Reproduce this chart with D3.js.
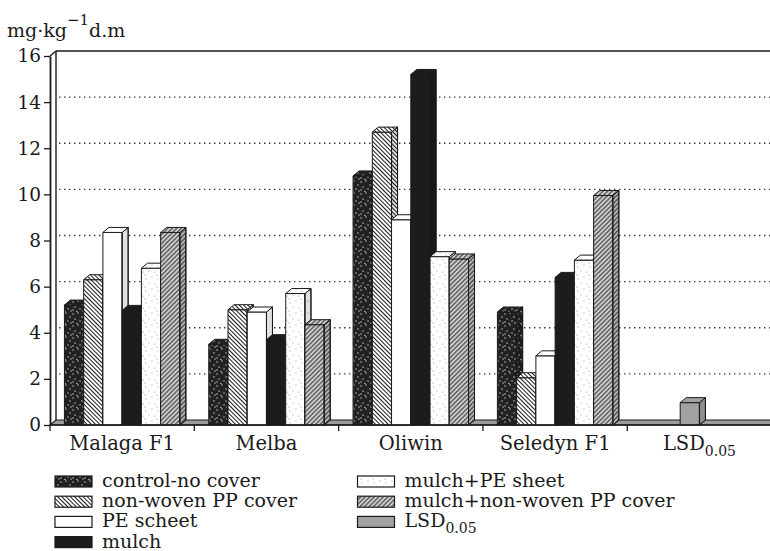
<!DOCTYPE html>
<html><head><meta charset="utf-8">
<script src="https://cdn.jsdelivr.net/npm/d3@7"></script>
<style>
body{margin:0;background:#fff}
svg text{font-family:"DejaVu Serif",serif;fill:#1a1a1a}
</style>
</head><body>
<svg id="c" width="770" height="551"></svg>
<script>
// ---- data ----
const categories = ["Malaga F1", "Melba", "Oliwin", "Seledyn F1", "LSD"];
const seriesNames = ["control-no cover", "non-woven PP cover", "PE scheet", "mulch",
                     "mulch+PE sheet", "mulch+non-woven PP cover", "LSD"];
const controlNoCover   = [5.2, 3.5, 10.8, 4.9, null];
const nonWovenPP       = [6.3, 5.0, 12.7, 2.05, null];
const peScheet         = [8.35, 4.9, 8.9, 3.0, null];
const mulch            = [4.97, 3.7, 15.2, 6.4, null];
const mulchPE          = [6.8, 5.7, 7.3, 7.15, null];
const mulchNonWovenPP  = [8.35, 4.35, 7.2, 9.95, null];
const lsd              = [null, null, null, null, 0.97];
const yTicks = [0, 2, 4, 6, 8, 10, 12, 14, 16];

const seriesValues = [controlNoCover, nonWovenPP, peScheet, mulch, mulchPE, mulchNonWovenPP, lsd];
const seriesSlot = [0, 1, 2, 3, 4, 5, 2];   // LSD shares the 3rd column slot
const fills = ["url(#pDots)", "url(#pBack)", "#ffffff", "#1c1c1c", "url(#pLight)", "url(#pFwd)", "#a2a2a2"];

// ---- layout ----
const svg = d3.select("#c");
const W = 770;
const dx = 6, dy = -5;
const x = d3.scaleBand().domain(categories).range([50, 771.6]).paddingInner(0).paddingOuter(0);
const xs = d3.scaleBand().domain(d3.range(6)).range([0, x.bandwidth()]).paddingInner(0).paddingOuter(0.75);
const y = d3.scaleLinear().domain([0, 16]).range([425, 56]);
const x0 = x.range()[0], x1 = x.range()[1], y0 = y(0);

// ---- patterns ----
const defs = svg.append("defs");
function dotPattern(id, bg, dot, r, pts) {
  const p = defs.append("pattern").attr("id", id).attr("patternUnits", "userSpaceOnUse")
    .attr("width", 12).attr("height", 12);
  p.append("rect").attr("width", 12).attr("height", 12).attr("fill", bg);
  pts.forEach(d => p.append("circle").attr("cx", d[0]).attr("cy", d[1]).attr("r", r).attr("fill", dot));
}
dotPattern("pDots", "#222", "#dcdcdc", 0.65, [[1,2],[6,1],[10,5],[3,7],[8,9],[11,11],[5,11.5],[1,10]]);
dotPattern("pLight", "#ffffff", "#8a8a8a", 0.6, [[2,3],[8,1],[5,7],[11,8],[1,11]]);
function hatch(id, bg, col, ang, sp, lw) {
  const p = defs.append("pattern").attr("id", id).attr("patternUnits", "userSpaceOnUse")
    .attr("width", sp).attr("height", sp).attr("patternTransform", `rotate(${ang})`);
  p.append("rect").attr("width", sp).attr("height", sp).attr("fill", bg);
  p.append("line").attr("x1", 0).attr("x2", sp).attr("y1", sp / 2).attr("y2", sp / 2)
    .attr("stroke", col).attr("stroke-width", lw);
}
hatch("pBack", "#ffffff", "#1a1a1a", 45, 3.0, 1.05);
hatch("pFwd", "#cfcfcf", "#3a3a3a", -45, 3.2, 1.1);

// ---- walls ----
const gWall = svg.append("g");
yTicks.filter(v => v > 0 && v < 16).forEach(v => {
  gWall.append("line").attr("x1", x0 + dx + 3).attr("x2", W + 5)
    .attr("y1", y(v) + dy).attr("y2", y(v) + dy)
    .attr("stroke", "#333").attr("stroke-width", 1.3).attr("stroke-dasharray", "1.4 3.6");
});
gWall.append("line").attr("x1", x0 + dx).attr("x2", W + 5)
  .attr("y1", y(16) + dy).attr("y2", y(16) + dy).attr("stroke", "#1a1a1a").attr("stroke-width", 1.4);
gWall.append("line").attr("x1", x0 + dx).attr("x2", x0 + dx)
  .attr("y1", y(16) + dy).attr("y2", y0 + dy).attr("stroke", "#1a1a1a").attr("stroke-width", 1.4);
gWall.append("line").attr("x1", x0).attr("x2", x0 + dx)
  .attr("y1", y(16)).attr("y2", y(16) + dy).attr("stroke", "#1a1a1a").attr("stroke-width", 1.4);
gWall.append("polygon")
  .attr("points", [[x0, y0], [x1, y0], [x1 + dx, y0 + dy], [x0 + dx, y0 + dy]].map(p => p.join(",")).join(" "))
  .attr("fill", "#9c9c9c").attr("stroke", "#1a1a1a").attr("stroke-width", 1.1);

// ---- bars ----
const gBars = svg.append("g");
categories.forEach((c, ci) => {
  const items = seriesValues.map((vals, si) => ({ si, v: vals[ci], slot: seriesSlot[si] }))
    .filter(d => d.v !== null).sort((a, b) => a.slot - b.slot);
  items.forEach(d => {
    const xl = x(c) + xs(d.slot), w = xs.bandwidth(), yt = y(d.v);
    const g = gBars.append("g").attr("stroke", "#1a1a1a").attr("stroke-width", 1).attr("stroke-linejoin", "round");
    g.append("rect").attr("x", xl).attr("y", yt).attr("width", w).attr("height", y0 - yt).attr("fill", fills[d.si]);
    const side = [[xl + w, yt], [xl + w + dx, yt + dy], [xl + w + dx, y0 + dy], [xl + w, y0]].map(p => p.join(",")).join(" ");
    g.append("polygon").attr("points", side).attr("fill", fills[d.si]);
    g.append("polygon").attr("points", side).attr("fill", "rgba(0,0,0,0.12)");
    const top = [[xl, yt], [xl + dx, yt + dy], [xl + w + dx, yt + dy], [xl + w, yt]].map(p => p.join(",")).join(" ");
    g.append("polygon").attr("points", top).attr("fill", fills[d.si]);
  });
});

// ---- axes ----
const yAxis = d3.axisLeft(y).tickValues(yTicks).tickSize(6).tickSizeOuter(0).tickPadding(3);
const gy = svg.append("g").attr("transform", `translate(${x0},0)`).call(yAxis);
gy.select(".domain").attr("stroke", "#1a1a1a").attr("stroke-width", 1.8);
gy.selectAll(".tick line").attr("stroke", "#1a1a1a").attr("stroke-width", 1.3);
gy.selectAll(".tick text").style("font-family", "'DejaVu Serif',serif").style("font-size", "18.5px").attr("fill", "#1a1a1a");

svg.append("line").attr("x1", x0).attr("x2", W + 5).attr("y1", y0).attr("y2", y0)
  .attr("stroke", "#1a1a1a").attr("stroke-width", 1.6);
categories.map(c => x(c)).concat([x1]).forEach(b => {
  svg.append("line").attr("x1", b).attr("x2", b).attr("y1", y0).attr("y2", y0 + 6)
    .attr("stroke", "#1a1a1a").attr("stroke-width", 1.3);
});
categories.forEach(c => {
  const t = svg.append("text").attr("x", x(c) + x.bandwidth() / 2).attr("y", 450)
    .attr("text-anchor", "middle").style("font-size", "19.5px");
  if (c === "LSD") {
    t.append("tspan").text("LSD");
    t.append("tspan").attr("dy", 6).style("font-size", "14px").text("0.05");
  } else t.text(c);
});

// y title
const yt = svg.append("text").attr("x", 7).attr("y", 37).style("font-size", "19px");
yt.append("tspan").text("mg·kg");
yt.append("tspan").attr("dy", -12).style("font-size", "15px").text("\u22121");
yt.append("tspan").attr("dy", 12).text("d.m");

// ---- legend ----
const leg = svg.append("g");
seriesNames.forEach((n, i) => {
  const col = i < 4 ? 0 : 1, row = i < 4 ? i : i - 4;
  const lx = col === 0 ? 55 : 357.5, ly = 476 + row * 20.2;
  leg.append("rect").attr("x", lx).attr("y", ly).attr("width", 37).attr("height", 11)
    .attr("fill", fills[i]).attr("stroke", "#1a1a1a").attr("stroke-width", 1.2);
  const t = leg.append("text").attr("x", lx + 47).attr("y", ly + 11).style("font-size", "19px");
  if (n === "LSD") {
    t.append("tspan").text("LSD");
    t.append("tspan").attr("dy", 6).style("font-size", "14px").text("0.05");
  } else t.text(n);
});
</script>
</body></html>
